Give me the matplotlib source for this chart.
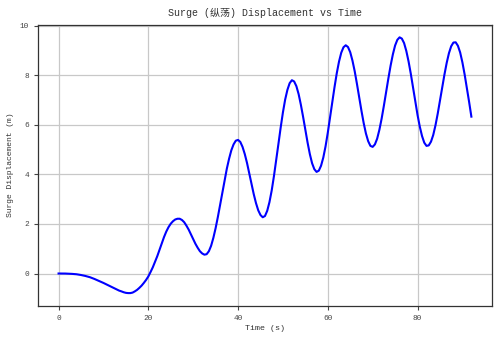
import numpy as np
import matplotlib
matplotlib.use('Agg')
import matplotlib.pyplot as plt

plt.rcParams['font.family'] = ['Liberation Mono', 'Noto Sans CJK SC', 'DejaVu Sans']

# surge displacement, every 0.5 s from t = 0 to 92 s
surge = [
    0.00, 0.00, 0.00, -0.002, -0.005, -0.01, -0.015, -0.022, -0.03, -0.045,
    -0.06, -0.08, -0.10, -0.125, -0.15, -0.185, -0.22, -0.26, -0.30, -0.34,
    -0.38, -0.425, -0.47, -0.515, -0.56, -0.605, -0.65, -0.69, -0.72, -0.755,
    -0.78, -0.79, -0.79, -0.77, -0.72, -0.66, -0.58, -0.49, -0.38, -0.26,
    -0.12, 0.06, 0.25, 0.47, 0.70, 0.96, 1.22, 1.47, 1.69, 1.87,
    2.01, 2.11, 2.18, 2.21, 2.21, 2.16, 2.07, 1.93, 1.77, 1.58,
    1.39, 1.20, 1.04, 0.90, 0.81, 0.76, 0.78, 0.90, 1.12, 1.44,
    1.83, 2.28, 2.77, 3.28, 3.77, 4.23, 4.63, 4.97, 5.21, 5.36,
    5.39, 5.31, 5.11, 4.82, 4.46, 4.04, 3.61, 3.20, 2.84, 2.55,
    2.36, 2.27, 2.32, 2.53, 2.88, 3.35, 3.93, 4.57, 5.23, 5.89,
    6.50, 7.02, 7.41, 7.68, 7.80, 7.75, 7.56, 7.24, 6.81, 6.32,
    5.79, 5.28, 4.82, 4.45, 4.21, 4.10, 4.15, 4.35, 4.68, 5.13,
    5.68, 6.28, 6.91, 7.52, 8.08, 8.55, 8.91, 9.13, 9.21, 9.14,
    8.93, 8.59, 8.16, 7.65, 7.10, 6.57, 6.07, 5.65, 5.34, 5.15,
    5.11, 5.21, 5.44, 5.80, 6.25, 6.77, 7.32, 7.87, 8.39, 8.84,
    9.20, 9.43, 9.53, 9.48, 9.30, 8.98, 8.56, 8.06, 7.50, 6.94,
    6.40, 5.93, 5.55, 5.28, 5.15, 5.17, 5.32, 5.59, 5.98, 6.45,
    6.97, 7.51, 8.03, 8.50, 8.89, 9.17, 9.32, 9.33, 9.19, 8.92,
    8.52, 8.03, 7.48, 6.92, 6.33,
]
time = np.arange(len(surge)) * 0.5

fig = plt.figure(figsize=(4.99, 3.41), dpi=100)
ax = fig.add_axes([0.076, 0.103, 0.910, 0.825])
ax.plot(time, surge, color='blue', linewidth=1.5)

ax.set_title('Surge (纵荡) Displacement vs Time', fontsize=7.2, color='#333333')
ax.set_xlabel('Time (s)', fontsize=6, color='#333333', labelpad=2)
ax.set_ylabel('Surge Displacement (m)', fontsize=5.8, color='#333333', labelpad=4)
ax.tick_params(labelsize=5.6, colors='#444444', length=3, width=0.8)
ax.set_xticks([0, 20, 40, 60, 80])
ax.set_yticks([0, 2, 4, 6, 8, 10])
ax.grid(True, color='#c8c8c8', linewidth=0.9)
for s in ax.spines.values():
    s.set_color('#333333')
    s.set_linewidth(0.9)

plt.savefig('out.png', dpi=100)
